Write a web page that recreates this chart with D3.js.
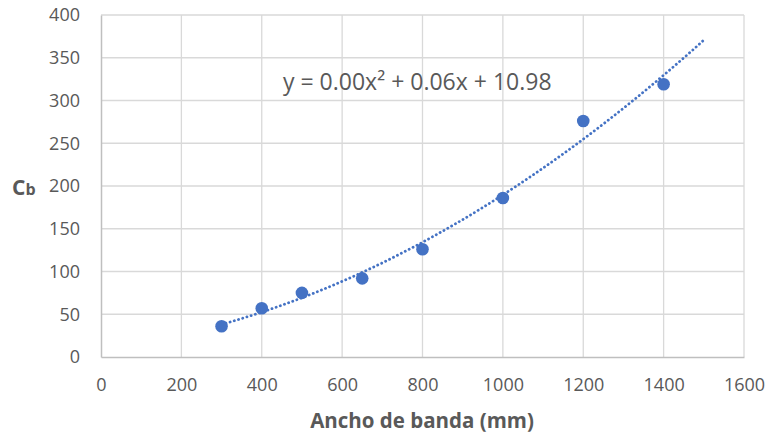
<!DOCTYPE html>
<html>
<head>
<meta charset="utf-8">
<script src="https://cdn.jsdelivr.net/npm/d3@7"></script>
<style>
  html, body { margin: 0; padding: 0; background: #fff; }
  svg { display: block; }
  text { font-family: "Open Sans", "Liberation Sans", sans-serif; fill: #595959; }
</style>
</head>
<body>
<svg id="chart" width="770" height="438"></svg>
<script>
// Belt width (mm) and Cb coefficient
const anchoBanda = [300, 400, 500, 650, 800, 1000, 1200, 1400];
const cb = [36, 57, 75, 92, 126, 186, 276, 319];
const xTicks = [0, 200, 400, 600, 800, 1000, 1200, 1400, 1600];
const yTicks = [0, 50, 100, 150, 200, 250, 300, 350, 400];
const ecuacion = "y = 0.00x\u00B2 + 0.06x + 10.98";
const trendFrom = 300, trendTo = 1500;

const svg = d3.select("#chart");
const plotLeft = 101, plotRight = 744, plotTop = 15, plotBottom = 357;

const x = d3.scaleLinear().domain([0, 1600]).range([plotLeft, plotRight]);
const y = d3.scaleLinear().domain([0, 400]).range([plotBottom, plotTop]);

// gridlines
svg.append("g").selectAll("line").data(yTicks.slice(1)).join("line")
  .attr("x1", plotLeft).attr("x2", plotRight)
  .attr("y1", d => y(d)).attr("y2", d => y(d))
  .attr("stroke", "#d9d9d9").attr("stroke-width", 1.3);
svg.append("g").selectAll("line").data(xTicks.slice(1)).join("line")
  .attr("x1", d => x(d)).attr("x2", d => x(d))
  .attr("y1", plotTop).attr("y2", plotBottom)
  .attr("stroke", "#d9d9d9").attr("stroke-width", 1.3);

// axes
const xAxis = d3.axisBottom(x).tickValues(xTicks).tickFormat(d3.format("d")).tickSize(0).tickPadding(21);
const gx = svg.append("g").attr("transform", `translate(0,${plotBottom})`).call(xAxis);
gx.select(".domain").attr("stroke", "#bfbfbf").attr("stroke-width", 1.5);
gx.selectAll("text").style("font-size", "18px").attr("fill", "#595959");

const yAxis = d3.axisLeft(y).tickValues(yTicks).tickFormat(d3.format("d")).tickSize(0).tickPadding(21);
const gy = svg.append("g").attr("transform", `translate(${plotLeft},0)`).call(yAxis);
gy.select(".domain").attr("stroke", "#bfbfbf").attr("stroke-width", 1.5);
gy.selectAll("text").style("font-size", "18px").attr("fill", "#595959");

// quadratic least-squares trendline
function polyFit2(xs, ys) {
  const n = xs.length;
  let s = [0, 0, 0, 0, 0], t = [0, 0, 0];
  for (let i = 0; i < n; i++) {
    let p = 1;
    for (let k = 0; k < 5; k++) { s[k] += p; if (k < 3) t[k] += p * ys[i]; p *= xs[i]; }
  }
  const M = [[s[0], s[1], s[2], t[0]], [s[1], s[2], s[3], t[1]], [s[2], s[3], s[4], t[2]]];
  for (let i = 0; i < 3; i++) {
    for (let j = i + 1; j < 3; j++) {
      const f = M[j][i] / M[i][i];
      for (let k = i; k < 4; k++) M[j][k] -= f * M[i][k];
    }
  }
  const c = [0, 0, 0];
  for (let i = 2; i >= 0; i--) {
    let v = M[i][3];
    for (let k = i + 1; k < 3; k++) v -= M[i][k] * c[k];
    c[i] = v / M[i][i];
  }
  return c; // c0 + c1 x + c2 x^2
}
const coef = polyFit2(anchoBanda, cb);
const trendPts = d3.range(trendFrom, trendTo + 1, 10).map(v => [v, coef[0] + coef[1] * v + coef[2] * v * v]);
svg.append("path")
  .datum(trendPts)
  .attr("d", d3.line().x(d => x(d[0])).y(d => y(d[1])))
  .attr("fill", "none")
  .attr("stroke", "#4472c4")
  .attr("stroke-width", 2.8)
  .attr("stroke-linecap", "round")
  .attr("stroke-dasharray", "0.1 4.3");

// data points
svg.append("g").selectAll("circle").data(anchoBanda).join("circle")
  .attr("cx", d => x(d))
  .attr("cy", (d, i) => y(cb[i]))
  .attr("r", 6.3)
  .attr("fill", "#4472c4");

// trendline equation
svg.append("text")
  .attr("x", 283).attr("y", 90)
  .style("font-size", "23px")
  .text(ecuacion);

// axis titles
svg.append("text")
  .attr("x", 422).attr("y", 428)
  .attr("text-anchor", "middle")
  .style("font-size", "20.5px").style("font-weight", "bold")
  .text("Ancho de banda (mm)");

const yt = svg.append("text").attr("x", 12).attr("y", 195)
  .style("font-weight", "bold");
yt.append("tspan").style("font-size", "21px").text("C");
yt.append("tspan").style("font-size", "16px").text("b");
</script>
</body>
</html>
